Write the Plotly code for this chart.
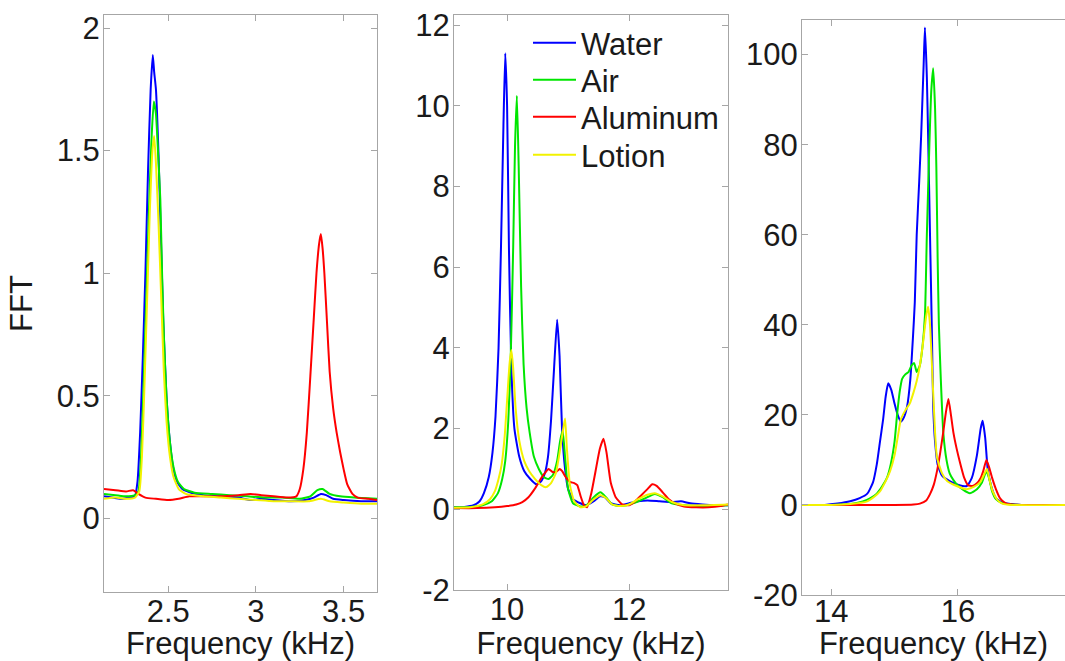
import plotly.graph_objects as go

# ---------------- Band 1: 2.1 - 3.7 kHz ----------------
b1_water_f = [2.134, 2.18, 2.23, 2.28, 2.31, 2.325, 2.34, 2.355, 2.37, 2.385, 2.40, 2.412, 2.42, 2.43,
              2.445, 2.46, 2.472, 2.49, 2.51, 2.53, 2.55, 2.58, 2.63, 2.7, 2.8, 2.9, 2.97, 3.03, 3.1,
              3.2, 3.28, 3.33, 3.37, 3.4, 3.44, 3.5, 3.6, 3.69]
b1_water_v = [0.09, 0.085, 0.08, 0.085, 0.09, 0.15, 0.35, 0.65, 1.0, 1.42, 1.75, 1.89, 1.82, 1.75,
              1.48, 1.1, 0.8, 0.5, 0.31, 0.2, 0.15, 0.12, 0.105, 0.095, 0.09, 0.085, 0.075, 0.08, 0.075,
              0.07, 0.075, 0.085, 0.1, 0.095, 0.08, 0.075, 0.07, 0.07]

b1_air_f = [2.134, 2.2, 2.26, 2.31, 2.33, 2.345, 2.36, 2.375, 2.39, 2.405, 2.418, 2.43, 2.445, 2.455,
            2.465, 2.475, 2.49, 2.51, 2.53, 2.555, 2.59, 2.65, 2.75, 2.85, 2.95, 3.05, 3.15, 3.25, 3.31,
            3.35, 3.38, 3.42, 3.48, 3.56, 3.69]
b1_air_v = [0.1, 0.095, 0.09, 0.095, 0.11, 0.25, 0.55, 0.9, 1.25, 1.55, 1.7, 1.65, 1.45, 1.3,
            1.0, 0.75, 0.5, 0.31, 0.21, 0.15, 0.12, 0.105, 0.1, 0.095, 0.09, 0.085, 0.085, 0.08, 0.09,
            0.115, 0.12, 0.1, 0.09, 0.085, 0.08]

b1_alu_f = [2.134, 2.2, 2.26, 2.3, 2.33, 2.37, 2.43, 2.5, 2.56, 2.62, 2.7, 2.8, 2.9, 2.97, 3.03, 3.1,
            3.18, 3.23, 3.25, 3.27, 3.29, 3.31, 3.33, 3.345, 3.36, 3.37, 3.38, 3.39, 3.405, 3.42, 3.44,
            3.46, 3.48, 3.5, 3.52, 3.55, 3.58, 3.64, 3.69]
b1_alu_v = [0.12, 0.115, 0.11, 0.115, 0.1, 0.085, 0.08, 0.075, 0.08, 0.09, 0.09, 0.09, 0.095, 0.1, 0.095, 0.09,
            0.085, 0.09, 0.12, 0.2, 0.35, 0.58, 0.82, 1.0, 1.12, 1.16, 1.1, 1.0, 0.8, 0.6, 0.45,
            0.35, 0.27, 0.2, 0.14, 0.1, 0.085, 0.08, 0.075]

b1_lotion_f = [2.134, 2.2, 2.26, 2.31, 2.335, 2.35, 2.365, 2.38, 2.395, 2.41, 2.42, 2.43, 2.445, 2.46,
               2.475, 2.49, 2.51, 2.53, 2.56, 2.6, 2.7, 2.8, 2.9, 3.0, 3.1, 3.2, 3.3, 3.37, 3.42, 3.5,
               3.6, 3.69]
b1_lotion_v = [0.08, 0.085, 0.08, 0.085, 0.11, 0.25, 0.55, 0.9, 1.25, 1.5, 1.56, 1.45, 1.2, 0.9,
               0.6, 0.4, 0.25, 0.17, 0.12, 0.1, 0.09, 0.085, 0.08, 0.075, 0.07, 0.07, 0.07, 0.08, 0.07, 0.065,
               0.06, 0.06]

# ---------------- Band 2: 9.1 - 13.6 kHz ----------------
b2_water_f = [9.13, 9.3, 9.45, 9.55, 9.62, 9.7, 9.76, 9.81, 9.86, 9.9, 9.94, 9.97, 10.0, 10.03, 10.07,
              10.12, 10.2, 10.28, 10.38, 10.48, 10.56, 10.62, 10.67, 10.72, 10.77, 10.82, 10.86, 10.9,
              10.95, 11.0, 11.08, 11.2, 11.3, 11.42, 11.52, 11.6, 11.7, 11.85, 12.0, 12.15, 12.3, 12.5,
              12.7, 12.85, 13.0, 13.2, 13.4, 13.62]
b2_water_v = [0.05, 0.06, 0.1, 0.2, 0.4, 0.8, 1.4, 2.3, 4.0, 6.5, 9.5, 11.3, 10.0, 6.5, 3.5,
              2.0, 1.3, 0.95, 0.75, 0.62, 0.7, 0.9, 1.3, 2.2, 3.5, 4.7, 3.8, 2.0,
              1.0, 0.5, 0.25, 0.15, 0.1, 0.2, 0.32, 0.3, 0.15, 0.1, 0.15, 0.2, 0.22, 0.2,
              0.18, 0.2, 0.15, 0.12, 0.1, 0.1]

b2_air_f = [9.13, 9.4, 9.6, 9.75, 9.85, 9.92, 9.97, 10.02, 10.06, 10.1, 10.13, 10.16, 10.19, 10.23,
            10.27, 10.32, 10.37, 10.44, 10.52, 10.6, 10.68, 10.75, 10.82, 10.87, 10.91, 10.95, 11.0,
            11.08, 11.2, 11.3, 11.42, 11.53, 11.62, 11.72, 11.85, 12.0, 12.15, 12.3, 12.42, 12.55,
            12.7, 12.9, 13.2, 13.62]
b2_air_v = [0.05, 0.06, 0.1, 0.2, 0.4, 0.75, 1.2, 2.2, 3.8, 6.5, 9.0, 10.25, 8.5, 5.5,
            3.6, 2.5, 1.9, 1.3, 1.0, 0.8, 0.75, 0.85, 1.2, 1.7, 1.95, 1.3, 0.5,
            0.15, 0.07, 0.1, 0.3, 0.42, 0.3, 0.12, 0.08, 0.12, 0.2, 0.3, 0.38, 0.3,
            0.15, 0.1, 0.08, 0.1]

b2_alu_f = [9.13, 9.5, 9.8, 10.0, 10.15, 10.25, 10.35, 10.45, 10.55, 10.62, 10.68, 10.74, 10.8, 10.86,
            10.9, 10.96, 11.03, 11.1, 11.15, 11.2, 11.26, 11.31, 11.38, 11.45, 11.52, 11.58, 11.63,
            11.7, 11.78, 11.88, 12.0, 12.1, 12.2, 12.3, 12.38, 12.45, 12.55, 12.65, 12.75, 12.9,
            13.1, 13.3, 13.5, 13.62]
b2_alu_v = [0.03, 0.03, 0.05, 0.08, 0.12, 0.18, 0.3, 0.5, 0.75, 0.9, 1.0, 0.93, 0.92, 1.0,
            0.95, 0.8, 0.68, 0.65, 0.6, 0.35, 0.1, 0.05, 0.4, 0.95, 1.5, 1.75, 1.4,
            0.65, 0.3, 0.13, 0.1, 0.2, 0.35, 0.5, 0.62, 0.58, 0.42, 0.25, 0.15, 0.07,
            0.05, 0.05, 0.08, 0.12]

b2_lotion_f = [9.13, 9.4, 9.6, 9.72, 9.8, 9.86, 9.91, 9.96, 10.0, 10.04, 10.07, 10.1, 10.14, 10.2,
               10.28, 10.36, 10.46, 10.56, 10.64, 10.72, 10.8, 10.86, 10.91, 10.95, 10.98, 11.03, 11.1,
               11.2, 11.3, 11.42, 11.53, 11.62, 11.72, 11.85, 12.0, 12.15, 12.3, 12.42, 12.55, 12.7,
               12.9, 13.2, 13.62]
b2_lotion_v = [0.04, 0.05, 0.12, 0.25, 0.45, 0.75, 1.1, 1.8, 2.7, 3.6, 3.95, 3.5, 2.5, 1.7,
               1.2, 0.95, 0.75, 0.6, 0.55, 0.65, 0.9, 1.4, 1.9, 2.25, 1.5, 0.6, 0.2,
               0.05, 0.08, 0.25, 0.35, 0.28, 0.12, 0.08, 0.12, 0.25, 0.36, 0.4, 0.32, 0.18,
               0.1, 0.1, 0.12]

# ---------------- Band 3: 13.5 - 17.7 kHz ----------------
b3_water_f = [13.54, 13.9, 14.1, 14.3, 14.45, 14.57, 14.66, 14.72, 14.77, 14.82, 14.86, 14.9, 14.95,
              15.0, 15.05, 15.1, 15.15, 15.2, 15.25, 15.29, 15.32, 15.35, 15.39, 15.42, 15.46, 15.48,
              15.51, 15.53, 15.56, 15.59, 15.61, 15.64, 15.68, 15.75, 15.87, 16.0, 16.14, 16.22, 16.3,
              16.36, 16.39, 16.43, 16.47, 16.52, 16.6, 16.7, 16.85, 17.0, 17.69]
b3_water_v = [0, 0, 0.3, 0.8, 1.5, 2.5, 5, 9, 14, 19, 24, 27, 25.5,
              22.5, 20, 18.5, 19.5, 22, 28, 37, 45, 60, 72, 82, 98, 106,
              95, 82, 60, 38, 22, 14, 9, 6.5, 5.3, 4.5, 4.2, 6, 11,
              17, 18.7, 15, 8, 4.5, 1.5, 0.5, 0.2, 0, 0]

b3_air_f = [13.54, 14.0, 14.3, 14.5, 14.62, 14.72, 14.8, 14.88, 14.94, 15.0, 15.04, 15.08, 15.12, 15.17,
            15.22, 15.27, 15.31, 15.35, 15.4, 15.44, 15.48, 15.51, 15.55, 15.58, 15.61, 15.64, 15.66,
            15.68, 15.7, 15.73, 15.77, 15.82, 15.87, 15.93, 15.98, 16.08, 16.19, 16.3, 16.38, 16.45,
            16.5, 16.54, 16.6, 16.7, 16.85, 17.0, 17.69]
b3_air_v = [0, 0, 0.2, 0.8, 1.5, 2.5, 4, 6, 9, 14, 20, 25, 28, 29,
            29.5, 31, 31.5, 29.5, 31, 35, 42, 60, 80, 92, 97, 88, 75,
            55, 40, 28, 16, 10, 7, 5.5, 4.6, 3.4, 2.6, 3.5, 5, 7.5,
            5.5, 3, 1.3, 0.4, 0.1, 0, 0]

b3_alu_f = [13.54, 15.0, 15.3, 15.4, 15.5, 15.56, 15.62, 15.67, 15.72, 15.77, 15.81, 15.85, 15.89,
            15.93, 15.98, 16.03, 16.1, 16.16, 16.23, 16.3, 16.36, 16.4, 16.45, 16.49, 16.54, 16.6,
            16.66, 16.72, 16.77, 16.9, 17.0, 17.69]
b3_alu_v = [0, 0, 0.1, 0.3, 1, 2.4, 4.5, 7.5, 11.5, 16.3, 20.5, 23.5, 20,
            16, 12.5, 9.6, 6, 4.4, 4.2, 4.8, 6, 7.5, 10, 8.5, 6, 3.5,
            1.6, 0.7, 0.3, 0.05, 0, 0]

b3_lotion_f = [13.54, 14.0, 14.3, 14.57, 14.68, 14.77, 14.85, 14.93, 15.0, 15.05, 15.1, 15.17, 15.24,
               15.3, 15.35, 15.4, 15.45, 15.5, 15.53, 15.56, 15.6, 15.64, 15.67, 15.75, 15.83, 15.98,
               16.14, 16.25, 16.35, 16.42, 16.46, 16.5, 16.55, 16.62, 16.7, 16.85, 17.69]
b3_lotion_v = [0, 0, 0.2, 0.8, 1.8, 3, 5, 7.5, 11, 15, 19, 21, 22.5,
               25, 27.5, 31, 36, 42, 44, 40, 28, 16, 10.5, 7, 5.3, 4.2,
               3.5, 4, 5, 7, 8, 5.5, 3, 1.2, 0.3, 0, 0]

materials = ["Water", "Air", "Aluminum", "Lotion"]
colors = ["#0000ff", "#00e600", "#ff0000", "#f2f200"]

bands = [
    [(b1_water_f, b1_water_v), (b1_air_f, b1_air_v), (b1_alu_f, b1_alu_v), (b1_lotion_f, b1_lotion_v)],
    [(b2_water_f, b2_water_v), (b2_air_f, b2_air_v), (b2_alu_f, b2_alu_v), (b2_lotion_f, b2_lotion_v)],
    [(b3_water_f, b3_water_v), (b3_air_f, b3_air_v), (b3_alu_f, b3_alu_v), (b3_lotion_f, b3_lotion_v)],
]

x_ranges = [[2.134, 3.69], [9.13, 13.62], [13.54, 17.69]]
y_ranges = [[-0.3, 2.053], [-2, 12.25], [-20, 107.8]]
x_ticks = [[2.5, 3, 3.5], [10, 12], [14, 16]]
x_ticklabels = [["2.5", "3", "3.5"], ["10", "12"], ["14", "16"]]
y_ticks = [[0, 0.5, 1, 1.5, 2], [-2, 0, 2, 4, 6, 8, 10, 12], [-20, 0, 20, 40, 60, 80, 100]]
y_ticklabels = [["0", "0.5", "1", "1.5", "2"],
                ["-2", "0", "2", "4", "6", "8", "10", "12"],
                ["-20", "0", "20", "40", "60", "80", "100"]]

W, H = 1065, 661
# pixel boxes of the three plot areas: (left, right, top, bottom)
boxes = [(104, 377, 15, 592), (454, 728, 15, 590), (802, 1065, 19.5, 595)]
# x tick label offsets per panel (px)
x_label_shift = [-8, -8, -11]
# vertical centres (px) of the legend rows
legend_rows = [43, 80, 117, 155]

FONT = "Liberation Sans, Arial, sans-serif"
FS = 31
AX_COLOR = "#a6a6a6"
TXT = "#1a1a1a"

fig = go.Figure()
legend_ids = ["legend", "legend2", "legend3", "legend4"]
for b, band in enumerate(bands):
    sfx = "" if b == 0 else str(b + 1)
    for m, (f, v) in enumerate(band):
        fig.add_trace(go.Scatter(
            x=f, y=v, mode="lines", name=materials[m],
            line=dict(color=colors[m], width=2, shape="spline", smoothing=0.5),
            xaxis="x" + sfx, yaxis="y" + sfx,
            showlegend=(b == 1), legend=legend_ids[m],
        ))

layout = dict(
    template="none",
    width=W, height=H,
    margin=dict(l=0, r=0, t=0, b=0),
    paper_bgcolor="white", plot_bgcolor="white",
    font=dict(family=FONT, size=FS, color=TXT),
    showlegend=True,
)
for m, lid in enumerate(legend_ids):
    layout[lid] = dict(
        x=528 / W, y=(H - legend_rows[m]) / H, xanchor="left", yanchor="middle",
        bgcolor="rgba(0,0,0,0)", borderwidth=0,
        font=dict(size=FS, family=FONT, color=TXT),
        itemwidth=43,
    )

for b in range(3):
    l, r, t, btm = boxes[b]
    sfx = "" if b == 0 else str(b + 1)
    common = dict(
        showgrid=False, zeroline=False, showline=True, linecolor=AX_COLOR, linewidth=1,
        ticks="inside", ticklen=6, tickwidth=1, tickcolor=AX_COLOR, automargin=False,
        tickfont=dict(family=FONT, size=FS, color=TXT),
    )
    layout["xaxis" + sfx] = dict(
        common, domain=[l / W, r / W], range=x_ranges[b],
        tickmode="array", tickvals=x_ticks[b], ticktext=x_ticklabels[b],
        anchor="y" + sfx, mirror="ticks", ticklabelstandoff=x_label_shift[b],
        title=dict(text="Frequency (kHz)", standoff=2, font=dict(family=FONT, size=FS, color=TXT)),
    )
    ydict = dict(
        common, domain=[(H - btm) / H, (H - t) / H], range=y_ranges[b],
        tickmode="array", tickvals=y_ticks[b], ticktext=y_ticklabels[b],
        anchor="x" + sfx, mirror=("ticks" if b < 2 else False), ticklabelstandoff=-3,
    )
    if b == 0:
        ydict["title"] = dict(text="FFT", standoff=14, font=dict(family=FONT, size=FS, color=TXT))
    layout["yaxis" + sfx] = ydict

fig.update_layout(**layout)
fig.write_html("out.html")
